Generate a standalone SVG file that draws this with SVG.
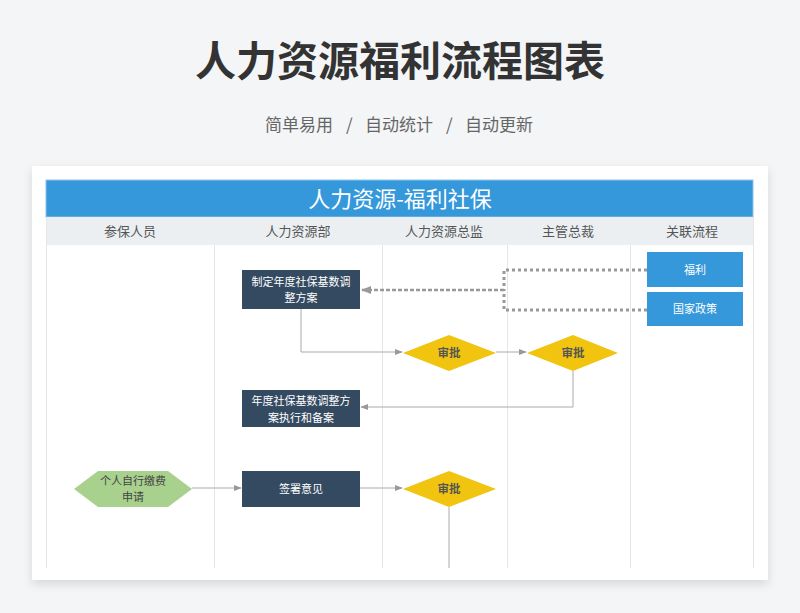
<svg xmlns="http://www.w3.org/2000/svg" width="800" height="613" viewBox="0 0 800 613">
<defs>
<filter id="sh" x="-10%" y="-10%" width="120%" height="130%"><feDropShadow dx="0" dy="4" stdDeviation="5" flood-color="#000" flood-opacity="0.12"/></filter>
<marker id="ar" viewBox="0 0 10 10" refX="9" refY="5" markerWidth="8" markerHeight="8" markerUnits="userSpaceOnUse" orient="auto"><path d="M0,1 L10,5 L0,9 z" fill="#999"/></marker>
<marker id="ar2" viewBox="0 0 10 10" refX="9" refY="5" markerWidth="10" markerHeight="10" markerUnits="userSpaceOnUse" orient="auto"><path d="M0,1 L10,5 L0,9 z" fill="#999"/></marker>
</defs>
<style>
text{font-family:"Noto Sans CJK SC","Noto Sans",sans-serif;}
.lane{stroke:#e3e7ea;stroke-width:1;fill:none}
.hd{font-size:13px;fill:#555;text-anchor:middle}
.box{fill:#344a60}
.bt{font-size:11px;fill:#fff;text-anchor:middle}
.dia{fill:#f1c40f}
.dt{font-size:11.5px;fill:#555;text-anchor:middle;font-weight:bold}
.blue{fill:#3498db}
.con{stroke:#aaa;stroke-width:1;fill:none}
.dot{stroke:#999;stroke-width:3;fill:none;stroke-dasharray:3 3}
</style>
<rect width="800" height="613" fill="#f3f5f7"/>
<text x="400" y="76" font-size="41" font-weight="bold" fill="#333" text-anchor="middle">人力资源福利流程图表</text>
<g font-size="17" fill="#666">
<text x="265" y="131">简单易用</text>
<text x="346" y="131">/</text>
<text x="365" y="131">自动统计</text>
<text x="446" y="131">/</text>
<text x="465" y="131">自动更新</text>
</g>
<rect x="32" y="166" width="736" height="414" fill="#fff" filter="url(#sh)"/>
<rect x="46" y="180" width="707" height="37" fill="#3498db" stroke="#8fc3ea" stroke-width="1"/>
<text x="400" y="207" font-size="22" fill="#fff" text-anchor="middle">人力资源-福利社保</text>
<rect x="46" y="217" width="707" height="28" fill="#ebeff2"/>
<g class="lane-lines">
<line class="lane" x1="46.5" y1="217" x2="46.5" y2="568"/>
<line class="lane" x1="214.5" y1="245" x2="214.5" y2="568"/>
<line class="lane" x1="382.5" y1="245" x2="382.5" y2="568"/>
<line class="lane" x1="507.5" y1="245" x2="507.5" y2="568"/>
<line class="lane" x1="630.5" y1="245" x2="630.5" y2="568"/>
<line class="lane" x1="753.5" y1="217" x2="753.5" y2="568"/>
</g>
<text class="hd" x="130" y="236">参保人员</text>
<text class="hd" x="298" y="236">人力资源部</text>
<text class="hd" x="444" y="236">人力资源总监</text>
<text class="hd" x="568" y="236">主管总裁</text>
<text class="hd" x="692" y="236">关联流程</text>
<g id="connectors">
<path class="con" d="M301,309 V352 H402" marker-end="url(#ar)"/>
<path class="con" d="M496,352 H526" marker-end="url(#ar)"/>
<path class="con" d="M573,371 V407 H361" marker-end="url(#ar)"/>
<path class="con" d="M192,488 H241" marker-end="url(#ar)"/>
<path class="con" d="M360,488 H402" marker-end="url(#ar)"/>
<path class="con" d="M449,507 V568"/>
<path class="dot" d="M647,270 H504 V290"/>
<path class="dot" d="M647,310 H504 V290"/>
<path d="M504,290 H362" stroke="#999" stroke-width="2.5" fill="none" stroke-dasharray="4 2" marker-end="url(#ar2)"/>
</g>
<g id="n1"><rect class="box" x="242" y="270" width="118" height="39"/><text class="bt" x="301" y="286">制定年度社保基数调</text><text class="bt" x="301" y="302">整方案</text></g>
<g id="n2"><polygon class="dia" points="403,353 449,335 496,353 449,371"/><text class="dt" x="449" y="357">审批</text></g>
<g id="n3"><polygon class="dia" points="527,353 573,335 618,353 573,371"/><text class="dt" x="573" y="357">审批</text></g>
<g id="n4"><rect class="box" x="242" y="390" width="118" height="37"/><text class="bt" x="301" y="405">年度社保基数调整方</text><text class="bt" x="301" y="422">案执行和备案</text></g>
<g id="n5"><polygon points="74,489 98,471 168,471 192,489 168,507 98,507" fill="#a9d18e"/><text x="133" y="485" font-size="11" fill="#444" text-anchor="middle">个人自行缴费</text><text x="133" y="501" font-size="11" fill="#444" text-anchor="middle">申请</text></g>
<g id="n6"><rect class="box" x="242" y="471" width="118" height="36"/><text class="bt" x="301" y="493">签署意见</text></g>
<g id="n7"><polygon class="dia" points="403,489 449,471 496,489 449,507"/><text class="dt" x="449" y="493">审批</text></g>
<g id="n8"><rect class="blue" x="647" y="252" width="96" height="35"/><text class="bt" x="695" y="274">福利</text></g>
<g id="n9"><rect class="blue" x="647" y="292" width="96" height="34"/><text class="bt" x="695" y="313">国家政策</text></g>
</svg>
